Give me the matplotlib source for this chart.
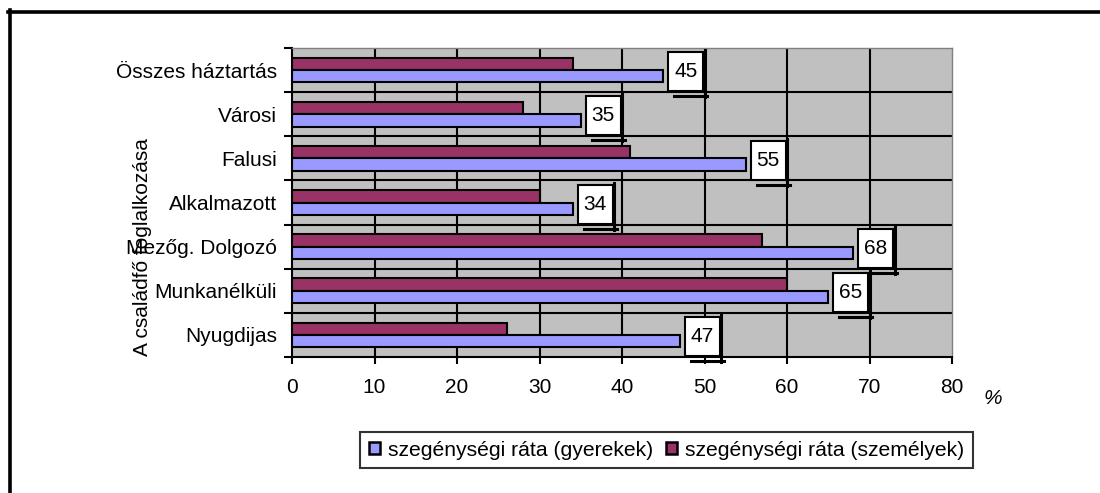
import matplotlib
matplotlib.use("Agg")
import matplotlib.pyplot as plt
from matplotlib.patches import Rectangle, Patch
from matplotlib.lines import Line2D
from matplotlib.transforms import ScaledTranslation, IdentityTransform
import numpy as np

plt.rcParams['font.family'] = ['Liberation Sans', 'DejaVu Sans']

categories = ["Összes háztartás", "Városi", "Falusi", "Alkalmazott",
              "Mezőg. Dolgozó", "Munkanélküli", "Nyugdijas"]
gyerekek = [45, 35, 55, 34, 68, 65, 47]
szemelyek = [34, 28, 41, 30, 57, 60, 26]

label_gy = "szegénységi ráta (gyerekek)"
label_sz = "szegénységi ráta (személyek)"

blue = "#9999FF"
maroon = "#993366"
W, H = 1100, 493

fig = plt.figure(figsize=(W / 100, H / 100), dpi=100)
ax = fig.add_axes([292 / W, 1 - 357 / H, 660 / W, 309 / H])
ax.set_facecolor("#C0C0C0")

n = len(categories)
y = np.arange(n)
bh = 0.28
ax.barh(y - bh / 2, szemelyek, height=bh, color=maroon, edgecolor="black", lw=1.5, zorder=3)
ax.barh(y + bh / 2, gyerekek, height=bh, color=blue, edgecolor="black", lw=1.5, zorder=3)

ax.set_xlim(0, 80)
ax.set_ylim(n - 0.5, -0.5)
ax.set_xticks(np.arange(0, 81, 10))
ax.set_yticks(y)
ax.set_yticklabels(categories)
ax.set_yticks(np.arange(-0.5, n, 1), minor=True)

ax.tick_params(axis="x", length=5, width=1.5, pad=10, labelsize=15)
ax.tick_params(axis="y", which="major", length=0, pad=10.8, labelsize=15)
ax.tick_params(axis="y", which="minor", length=6, width=1.5, direction="out")

# inner grid lines (the outer edges are left to the spines)
for xv in np.arange(10, 80, 10):
    ax.axvline(xv, color="black", lw=1.5, zorder=1)
for yv in np.arange(0.5, n - 1, 1):
    ax.axhline(yv, color="black", lw=1.5, zorder=1)

for side in ("top", "right"):
    ax.spines[side].set_color("#808080")
    ax.spines[side].set_linewidth(1)
for side in ("left", "bottom"):
    ax.spines[side].set_color("black")
    ax.spines[side].set_linewidth(1.5)

# value boxes with the offset shadow lines, placed in pixels from the bar end
for i, v in enumerate(gyerekek):
    tr = IdentityTransform() + ScaledTranslation(v, i + bh / 2, ax.transData)
    ax.add_artist(Rectangle((5, -15), 35, 39, transform=tr, facecolor="white",
                            edgecolor="black", lw=1.5, clip_on=False, zorder=5))
    ax.add_artist(Line2D([41.5, 41.5], [26, -21], transform=tr, color="black",
                         lw=2.2, clip_on=False, zorder=5))
    ax.add_artist(Line2D([11, 44], [-20, -20], transform=tr, color="black",
                         lw=2.2, clip_on=False, zorder=5))
    ax.annotate(str(v), xy=(v, i + bh / 2), xytext=(22.5, 4.5),
                textcoords="offset pixels", ha="center", va="center",
                fontsize=15, zorder=6, annotation_clip=False)

fig.text(142 / W, 1 - 247 / H, "A családfő foglalkozása", rotation=90,
         ha="center", va="center", fontsize=15)
fig.text(993 / W, 1 - 398 / H, "%", style="italic", ha="center", va="center", fontsize=15)

handles = [Patch(facecolor=blue, edgecolor="black", lw=1.8),
           Patch(facecolor=maroon, edgecolor="black", lw=1.8)]
leg = fig.legend(handles, [label_gy, label_sz], loc="center", ncol=2,
                 bbox_to_anchor=(666.5 / W, 1 - 450 / H), fontsize=15.2,
                 frameon=True, fancybox=False, edgecolor="black",
                 handlelength=0.52, handleheight=0.52, handletextpad=0.35,
                 columnspacing=0.65, borderpad=0.42, borderaxespad=0)
leg.get_frame().set_linewidth(1.5)

# outer frame: top and left edges only
fig.add_artist(Line2D([8 / W, 1], [1 - 11.5 / H, 1 - 11.5 / H], color="black", lw=2.6))
fig.add_artist(Line2D([9.5 / W, 9.5 / W], [0, 1 - 10 / H], color="black", lw=2.6))

fig.savefig("out.png", dpi=100)
